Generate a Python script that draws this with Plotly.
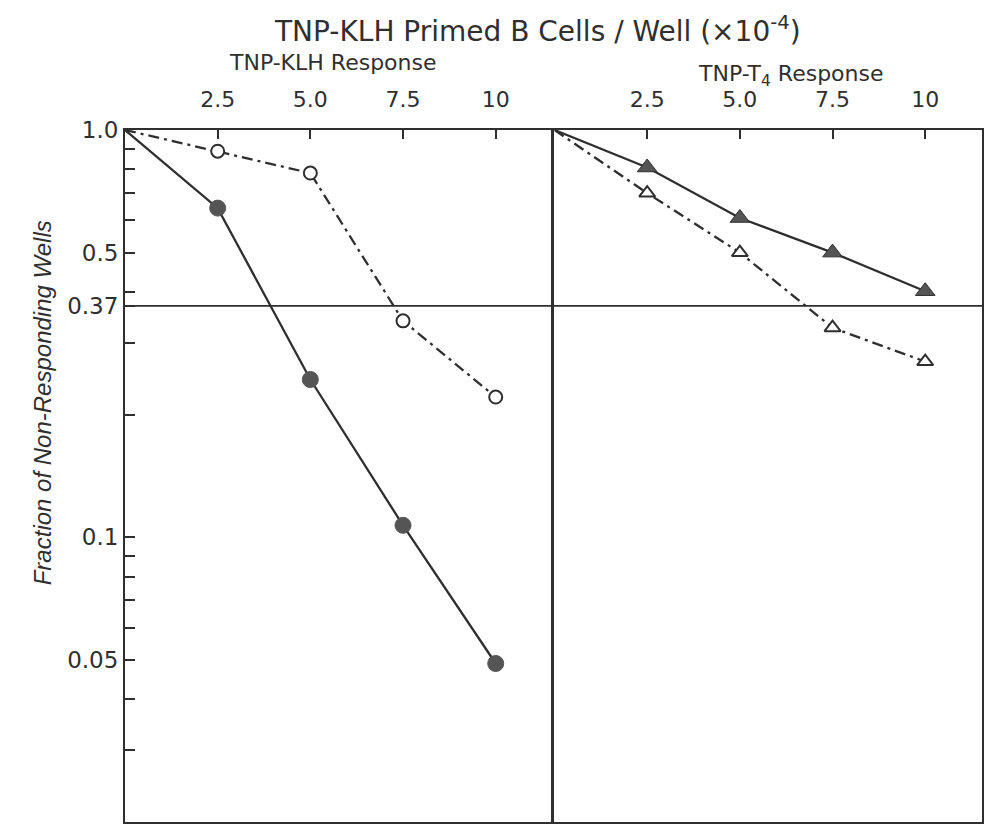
import plotly.graph_objects as go
import math

# ---- data ----
klh_x = [0, 2.5, 5.0, 7.5, 10]
klh_filled = [1.0, 0.643, 0.244, 0.107, 0.049]
klh_open = [1.0, 0.887, 0.784, 0.34, 0.221]

t4_x = [0, 2.5, 5.0, 7.5, 10]
t4_filled = [1.0, 0.809, 0.608, 0.50, 0.402]
t4_open = [1.0, 0.70, 0.50, 0.327, 0.27]

x_tickvals = [2.5, 5.0, 7.5, 10]
x_ticktext = ["2.5", "5.0", "7.5", "10"]

y_tickvals = [1.0, 0.9, 0.8, 0.7, 0.6, 0.5, 0.4, 0.37, 0.3, 0.2,
              0.1, 0.09, 0.08, 0.07, 0.06, 0.05, 0.04, 0.03]
y_labels = {1.0: "1.0", 0.5: "0.5", 0.37: "0.37", 0.1: "0.1", 0.05: "0.05"}
y_ticktext = [y_labels.get(v, "") for v in y_tickvals]
ref_level = 0.37

INK = "#2f2f2f"
FILL = "#555555"
FONT = "DejaVu Sans"

fig = go.Figure()

solid = dict(color=INK, width=2.3)
dashdot = dict(color=INK, width=2.3, dash="11px,5px,3px,5px")

fig.add_trace(go.Scatter(x=klh_x, y=klh_filled, mode="lines", line=solid,
                         xaxis="x", yaxis="y", showlegend=False))
fig.add_trace(go.Scatter(x=klh_x[1:], y=klh_filled[1:], mode="markers",
                         marker=dict(symbol="circle", size=16, color=FILL,
                                     line=dict(color=FILL, width=1)),
                         xaxis="x", yaxis="y", showlegend=False))
fig.add_trace(go.Scatter(x=klh_x, y=klh_open, mode="lines", line=dashdot,
                         xaxis="x", yaxis="y", showlegend=False))
fig.add_trace(go.Scatter(x=klh_x[1:], y=klh_open[1:], mode="markers",
                         marker=dict(symbol="circle", size=13, color="white",
                                     line=dict(color=INK, width=2)),
                         xaxis="x", yaxis="y", showlegend=False))

fig.add_trace(go.Scatter(x=t4_x, y=t4_filled, mode="lines", line=solid,
                         xaxis="x2", yaxis="y2", showlegend=False))
fig.add_trace(go.Scatter(x=t4_x[1:], y=t4_filled[1:], mode="markers",
                         marker=dict(symbol="triangle-up", size=17, color=FILL,
                                     line=dict(color=INK, width=1)),
                         xaxis="x2", yaxis="y2", showlegend=False))
fig.add_trace(go.Scatter(x=t4_x, y=t4_open, mode="lines", line=dashdot,
                         xaxis="x2", yaxis="y2", showlegend=False))
fig.add_trace(go.Scatter(x=t4_x[1:], y=t4_open[1:], mode="markers",
                         marker=dict(symbol="triangle-up", size=14, color="white",
                                     line=dict(color=INK, width=2)),
                         xaxis="x2", yaxis="y2", showlegend=False))

# page has a small body margin; work in page pixels and convert
OFF = 7
W, H = 978, 822
page_left, page_right, page_top, page_bottom = 124, 984, 129, 821
ml = page_left - OFF
mr = W - (page_right - OFF)
mt = page_top - OFF
mb = H - (page_bottom - OFF)
plot_w = W - ml - mr
plot_h = H - mt - mb
split_px = 555
split = (split_px - page_left) / plot_w
px_per_unit = 37.2

xcommon = dict(side="top", ticks="inside", ticklen=9, tickwidth=2, tickcolor=INK,
               tickvals=x_tickvals, ticktext=x_ticktext, showgrid=False, zeroline=False,
               showline=True, linecolor=INK, linewidth=2, mirror=True,
               tickfont=dict(family=FONT, size=22, color=INK), ticklabelstandoff=12)

fig.update_layout(
    width=W, height=H, paper_bgcolor="white", plot_bgcolor="white",
    margin=dict(l=ml, r=mr, t=mt, b=mb),
    xaxis=dict(domain=[0, split], range=[0, (split_px - page_left) / px_per_unit], anchor="y", **xcommon),
    xaxis2=dict(domain=[split, 1], range=[0, (page_right - split_px) / px_per_unit], anchor="y2", **xcommon),
    yaxis=dict(type="log", range=[math.log10(0.02), 0], anchor="x",
               tickvals=y_tickvals, ticktext=y_ticktext, ticks="inside", ticklen=10,
               tickwidth=2, tickcolor=INK, showgrid=False, zeroline=False,
               showline=True, linecolor=INK, linewidth=2, mirror=False,
               tickfont=dict(family=FONT, size=23, color=INK), ticklabelstandoff=0),
    yaxis2=dict(type="log", range=[math.log10(0.02), 0], anchor="x2", matches="y",
                showticklabels=False, ticks="", showgrid=False, zeroline=False,
                showline=True, linecolor=INK, linewidth=2.5, mirror=True),
)

fig.add_shape(type="line", xref="paper", yref="y", x0=0, x1=1, y0=ref_level, y1=ref_level,
              line=dict(color=INK, width=1.6))

def py(page_y):
    return (page_bottom - page_y) / plot_h

def pxf(page_x):
    return (page_x - page_left) / plot_w

fig.add_annotation(text="TNP-KLH Primed B Cells / Well (×10<sup>-4</sup>)", xref="paper", yref="paper",
                   x=pxf(538), y=py(OFF + 1), showarrow=False, xanchor="center", yanchor="top",
                   font=dict(family=FONT, size=28, color=INK))
fig.add_annotation(text="TNP-KLH Response", xref="paper", yref="paper",
                   x=pxf(333), y=py(62), showarrow=False, xanchor="center", yanchor="middle",
                   font=dict(family=FONT, size=22, color=INK))
fig.add_annotation(text="TNP-T<sub>4</sub> Response", xref="paper", yref="paper",
                   x=pxf(792), y=py(74), showarrow=False, xanchor="center", yanchor="middle",
                   font=dict(family=FONT, size=22, color=INK))
fig.add_annotation(text="Fraction of Non-Responding Wells", xref="paper", yref="paper",
                   x=pxf(41), y=py(402), showarrow=False, xanchor="center", yanchor="middle",
                   textangle=-90,
                   font=dict(family="Liberation Sans", size=24, color=INK, style="italic"))

fig.write_html("out.html")
